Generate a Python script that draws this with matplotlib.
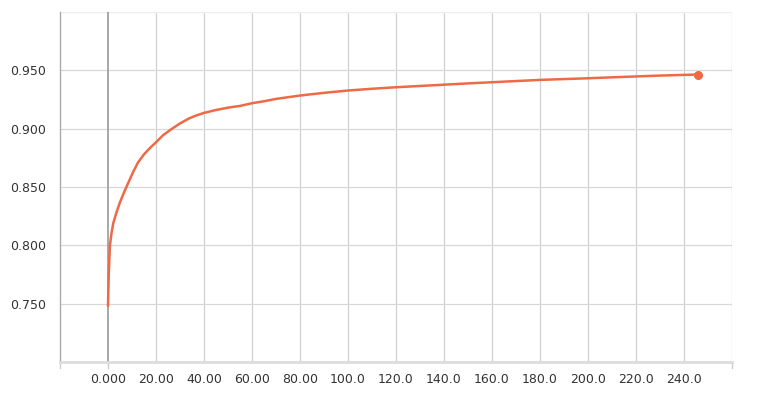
import matplotlib
matplotlib.use("Agg")
import matplotlib.pyplot as plt

# Data
steps = [0.0, 0.3, 0.8, 1.5, 2.2, 3.5, 5.0, 7.0, 9.2, 10.5, 12.5, 15.0, 17.5, 20.0, 23.0,
         26.7, 30.0, 34.0, 37.0, 40.0, 45.0, 50.0, 55.0, 60.0, 65.0, 70.0, 80.0, 90.0,
         100.0, 110.0, 120.0, 130.0, 140.0, 150.0, 160.0, 170.0, 180.0, 190.0, 200.0,
         210.0, 221.7, 230.0, 240.0, 245.8]
values = [0.748, 0.775, 0.800, 0.811, 0.819, 0.828, 0.837, 0.847, 0.857, 0.863, 0.871, 0.878,
          0.8835, 0.8883, 0.8945, 0.900, 0.9045, 0.9090, 0.9115, 0.9135, 0.9160, 0.9180,
          0.9195, 0.9218, 0.9235, 0.9255, 0.9284, 0.9307, 0.9327, 0.9342, 0.9355, 0.9366,
          0.9377, 0.9388, 0.9398, 0.9408, 0.9418, 0.9425, 0.9432, 0.9440, 0.9449, 0.9455,
          0.9461, 0.9464]

xticks = [0, 20, 40, 60, 80, 100, 120, 140, 160, 180, 200, 220, 240]
xtick_labels = ["0.000", "20.00", "40.00", "60.00", "80.00", "100.0", "120.0", "140.0",
                "160.0", "180.0", "200.0", "220.0", "240.0"]
yticks = [0.75, 0.80, 0.85, 0.90, 0.95]
ytick_labels = ["0.750", "0.800", "0.850", "0.900", "0.950"]

fig = plt.figure(figsize=(7.58, 4.08), dpi=100)
ax = fig.add_axes([60/758, 1 - 362/408, (732 - 60)/758, (362 - 12)/408])

ax.set_xlim(-20, 260)
ax.set_ylim(0.70, 1.0)

# grid lines
for gx in range(20, 261, 20):
    ax.axvline(gx, color="#d0d0d0", lw=0.9, zorder=0)
for gy in yticks:
    ax.axhline(gy, color="#d8d8d8", lw=0.9, zorder=0)
ax.axvline(0, color="#999999", lw=1.2, zorder=1)

ax.plot(steps, values, color="#ee6a45", lw=1.8, zorder=3, solid_capstyle="round",
        solid_joinstyle="round")
ax.plot([steps[-1]], [values[-1]], "o", color="#ee6a45", ms=5.5, zorder=4)

ax.set_xticks(xticks)
ax.set_xticklabels(xtick_labels)
ax.set_yticks(yticks)
ax.set_yticklabels(ytick_labels)
ax.tick_params(axis="both", length=0, labelsize=9, colors="#333333", pad=8)
ax.tick_params(axis="y", pad=10)

# small end ticks below the bottom axis
for tx in [-20, 0, 260]:
    ax.plot([tx, tx], [0.70, 0.70 - 0.005], color="#cccccc", lw=1.0,
            clip_on=False, zorder=2)

for s in ["top", "right"]:
    ax.spines[s].set_visible(False)
ax.spines["left"].set_color("#aaaaaa")
ax.spines["left"].set_linewidth(1.0)
ax.spines["bottom"].set_color("#dddddd")
ax.spines["bottom"].set_linewidth(2.0)
ax.axhline(1.0, color="#eeeeee", lw=1.0, zorder=0)

fig.savefig("out.png", dpi=100)
